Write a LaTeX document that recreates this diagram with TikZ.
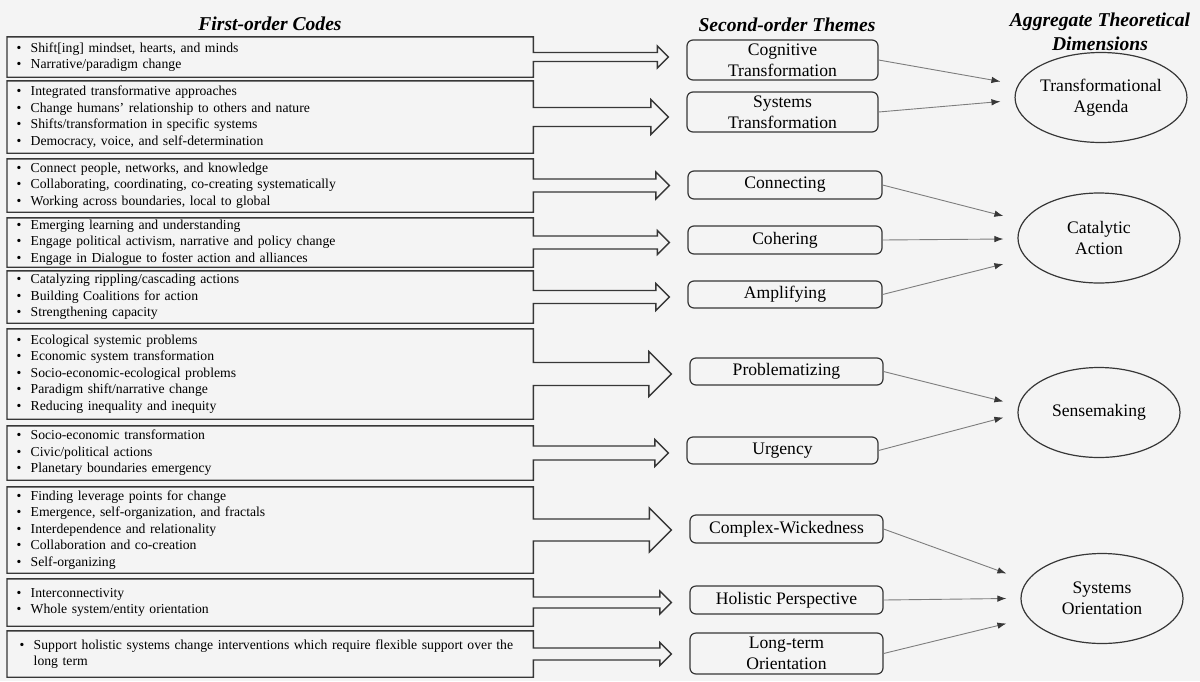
\documentclass[tikz,border=0pt]{standalone}
\usepackage{fontspec}
\setmainfont{Liberation Serif}
\usetikzlibrary{shapes.geometric,arrows.meta,calc}
\definecolor{fond}{RGB}{244,244,244}
\definecolor{trait}{RGB}{55,55,55}
\definecolor{fleche}{RGB}{125,125,125}
\newcommand\bul{\makebox[14pt][l]{\textbullet}}
\tikzset{
  codes/.style={rectangle,anchor=west,inner xsep=9.5pt,inner ysep=0pt,text width=507pt,
    align=left,font=\fontsize{13.7}{16.5}\selectfont},
  bloc/.style={draw=trait,line width=1.4pt,line join=miter},
  theme/.style={rectangle,draw=trait,line width=1.2pt,rounded corners=6pt,inner sep=0pt,
    align=center,font=\fontsize{17.6}{21}\selectfont},
  dim/.style={ellipse,draw=trait,line width=1.2pt,minimum width=162pt,minimum height=90pt,
    inner sep=0pt,align=center,font=\fontsize{17.6}{21}\selectfont},
  titre/.style={inner sep=0pt,align=center,font=\fontsize{19.6}{24}\selectfont\bfseries\itshape},
  lien/.style={draw=fleche,line width=0.9pt,-{Latex[length=9pt,width=6.5pt,color=trait]}}
}
\begin{document}
\begin{tikzpicture}[x=1pt,y=-1pt]
	\fill [fond] (0,0) rectangle (1200,681);
	\useasboundingbox (0,0) rectangle (1200,681);

	%titres
	\node [titre,anchor=base] (h1) at (270,30) {First-order Codes};
	\node [titre,anchor=base] (h2) at (787,31) {Second-order Themes};
	\node [titre] (h3) at (1100,32) {Aggregate Theoretical\\Dimensions};

	%codes du premier ordre
	\node [codes,minimum height=40pt] (c1) at (7,57) {\bul Shift[ing] mindset, hearts, and minds\\ \bul Narrative/paradigm change};
	\node [codes,minimum height=72pt] (c2) at (7,117) {\bul Integrated transformative approaches\\ \bul Change humans’ relationship to others and nature\\ \bul Shifts/transformation in specific systems\\ \bul Democracy, voice, and self-determination};
	\node [codes,minimum height=53pt] (c3) at (7,185.5) {\bul Connect people, networks, and knowledge\\ \bul Collaborating, coordinating, co-creating systematically\\ \bul Working across boundaries, local to global};
	\node [codes,minimum height=49pt] (c4) at (7,242.5) {\bul Emerging learning and understanding\\ \bul Engage political activism, narrative and policy change\\ \bul Engage in Dialogue to foster action and alliances};
	\node [codes,minimum height=52pt] (c5) at (7,297) {\bul Catalyzing rippling/cascading actions\\ \bul Building Coalitions for action\\ \bul Strengthening capacity};
	\node [codes,minimum height=90pt] (c6) at (7,374) {\bul Ecological systemic problems\\ \bul Economic system transformation\\ \bul Socio-economic-ecological problems\\ \bul Paradigm shift/narrative change\\ \bul Reducing inequality and inequity};
	\node [codes,minimum height=54pt] (c7) at (7,453) {\bul Socio-economic transformation\\ \bul Civic/political actions\\ \bul Planetary boundaries emergency};
	\node [codes,minimum height=86pt] (c8) at (7,530) {\bul Finding leverage points for change\\ \bul Emergence, self-organization, and fractals\\ \bul Interdependence and relationality\\ \bul Collaboration and co-creation\\ \bul Self-organizing};
	\node [codes,minimum height=47pt] (c9) at (7,602.5) {\bul Interconnectivity\\ \bul Whole system/entity orientation};
	\node [codes,minimum height=46pt] (c10) at (7,654) {\hspace*{3pt}\bul Support holistic systems change interventions which require flexible support over the\\ \hspace*{17pt}long term};

	%themes du second ordre
	\node [theme,minimum width=191pt,minimum height=40pt] (t1) at (782.5,60) {Cognitive\\Transformation};
	\node [theme,minimum width=191pt,minimum height=40pt] (t2) at (782.5,112) {Systems\\Transformation};
	\node [theme,minimum width=194pt,minimum height=28pt] (t3) at (785,185) {Connecting};
	\node [theme,minimum width=194pt,minimum height=28pt] (t4) at (785,240) {Cohering};
	\node [theme,minimum width=194pt,minimum height=27pt] (t5) at (785,294.5) {Amplifying};
	\node [theme,minimum width=193pt,minimum height=27pt] (t6) at (786.5,371.5) {Problematizing};
	\node [theme,minimum width=191pt,minimum height=27pt] (t7) at (782.5,450.5) {Urgency};
	\node [theme,minimum width=193pt,minimum height=28pt] (t8) at (786.5,529) {Complex-Wickedness};
	\node [theme,minimum width=193pt,minimum height=28pt] (t9) at (786.5,600) {Holistic Perspective};
	\node [theme,minimum width=193pt,minimum height=41pt] (t10) at (786.5,653.5) {Long-term\\Orientation};

	%dimensions
	\node [dim] (ag) at (1101,97.5) {Transformational\\Agenda};
	\node [dim] (ca) at (1099,238) {Catalytic\\Action};
	\node [dim] (se) at (1099,412.5) {Sensemaking};
	\node [dim] (so) at (1102,598.5) {Systems\\Orientation};

	%cadres + grosses fleches
	\foreach \i/\sh/\hd in {1/4.5/11,2/9.5/17.5,3/6.5/13.5,4/6.5/12,5/6.5/13.5,6/11.5/22.5,7/7/13.5,8/11/22,9/5.5/11.5,10/6/11.5}{
		\path (t\i.west) ++(-18,0) coordinate (pointe);
		\draw [bloc] (c\i.north west) -- (c\i.north east) -- ($(c\i.east)+(0,-\sh)$)
			-- ($(c\i.east -| pointe)+(-\hd,-\sh)$) -- ($(c\i.east -| pointe)+(-\hd,-\hd)$)
			-- (c\i.east -| pointe)
			-- ($(c\i.east -| pointe)+(-\hd,\hd)$) -- ($(c\i.east -| pointe)+(-\hd,\sh)$)
			-- ($(c\i.east)+(0,\sh)$) -- (c\i.south east) -- (c\i.south west) -- cycle;
	}

	%fleches fines
	\foreach \t/\e/\dy in {t1/ag/-16,t2/ag/4,t3/ca/-22,t4/ca/1,t5/ca/26,t6/se/-11,t7/se/5,t8/so/-25,t9/so/0,t10/so/25}{
		\coordinate (\t-fin) at ($(\e.west)+(-14,\dy)$);
		\draw [lien] (\t.east) -- (\t-fin);
	}
\end{tikzpicture}
\end{document}
